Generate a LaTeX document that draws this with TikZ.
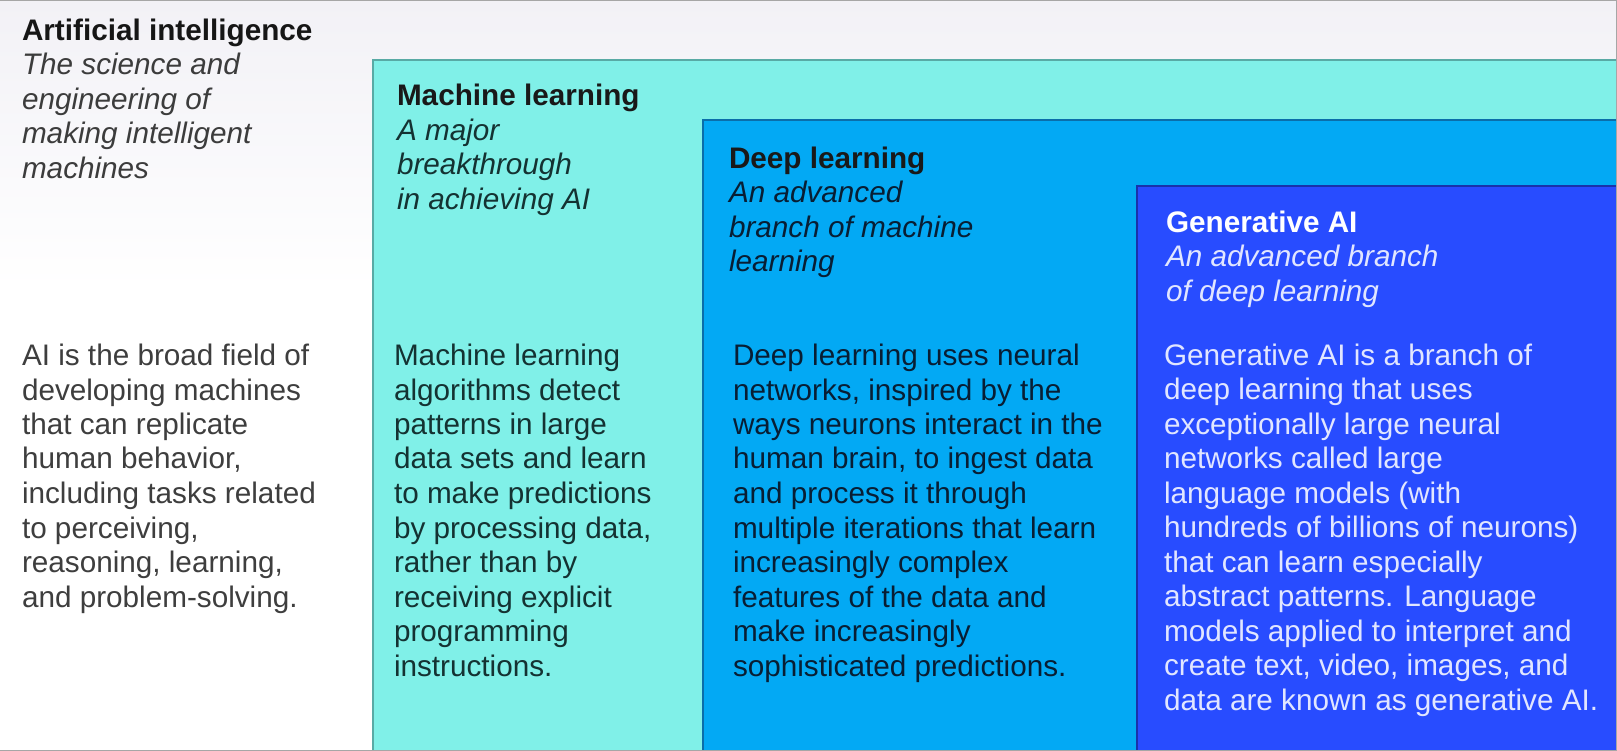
\documentclass[tikz,border=0pt]{standalone}
\usepackage{fontspec}
\setmainfont{Liberation Sans}
\definecolor{bgtop}{RGB}{242,241,246}
\definecolor{mlfill}{RGB}{128,240,232}
\definecolor{mledge}{RGB}{88,170,165}
\definecolor{dlfill}{RGB}{3,169,244}
\definecolor{dledge}{RGB}{10,110,170}
\definecolor{gafill}{RGB}{40,76,255}
\definecolor{gaedge}{RGB}{25,50,170}
\definecolor{aititle}{RGB}{22,22,22}
\definecolor{aisub}{RGB}{60,60,60}
\definecolor{aibody}{RGB}{62,62,62}
\definecolor{mltext}{RGB}{20,50,50}
\definecolor{dltext}{RGB}{8,30,52}
\definecolor{gatext}{RGB}{225,230,255}
\newcommand\blk[1]{\vtop{\baselineskip=34.5pt\lineskiplimit=-100pt\relax #1}}
\tikzset{
  txt/.style={anchor=base west, inner sep=0pt, outer sep=0pt,
    font=\fontsize{29.7pt}{34.5pt}\selectfont},
  box/.style={line width=1.2pt},
}
\begin{document}
\begin{tikzpicture}[x=1pt,y=-1pt]
\useasboundingbox (0,0) rectangle (1617,751);
\fill[white] (0,0) rectangle (1617,751);
\shade[top color=bgtop, bottom color=white] (0,0) rectangle (1617,290);
% nested boxes
\filldraw[box, fill=mlfill, draw=mledge] (373,60) rectangle (1618,752);
\filldraw[box, fill=dlfill, draw=dledge] (703,120) rectangle (1618,752);
\filldraw[box, fill=gafill, draw=gaedge] (1137,186) rectangle (1618,752);
% frame (top, right, bottom)
\draw[gray!70, line width=1.5pt] (0,0.5) -- (1616.5,0.5) -- (1616.5,750.5) -- (0,750.5);

% Artificial intelligence
\node[txt] (aihead) at (22,40.5) {\blk{%
  \hbox{\color{aititle}\bfseries Artificial intelligence}%
  \hbox{\color{aisub}\itshape The science and}%
  \hbox{\color{aisub}\itshape engineering of}%
  \hbox{\color{aisub}\itshape making intelligent}%
  \hbox{\color{aisub}\itshape machines}}};
\node[txt, text=aibody] (aibody) at (22,365.5) {\blk{%
  \hbox{AI is the broad field of}%
  \hbox{developing machines}%
  \hbox{that can replicate}%
  \hbox{human behavior,}%
  \hbox{including tasks related}%
  \hbox{to perceiving,}%
  \hbox{reasoning, learning,}%
  \hbox{and problem-solving.}}};

% Machine learning
\node[txt, text=mltext] (mlhead) at (397,106) {\blk{%
  \hbox{\color{black!90}\bfseries Machine learning}%
  \hbox{\itshape A major}%
  \hbox{\itshape breakthrough}%
  \hbox{\itshape in achieving AI}}};
\node[txt, text=mltext] (mlbody) at (394,365.5) {\blk{%
  \hbox{Machine learning}%
  \hbox{algorithms detect}%
  \hbox{patterns in large}%
  \hbox{data sets and learn}%
  \hbox{to make predictions}%
  \hbox{by processing data,}%
  \hbox{rather than by}%
  \hbox{receiving explicit}%
  \hbox{programming}%
  \hbox{instructions.}}};

% Deep learning
\node[txt, text=dltext] (dlhead) at (729,168.3) {\blk{%
  \hbox{\color{black!90}\bfseries Deep learning}%
  \hbox{\itshape An advanced}%
  \hbox{\itshape branch of machine}%
  \hbox{\itshape learning}}};
\node[txt, text=dltext] (dlbody) at (733,365.5) {\blk{%
  \hbox{Deep learning uses neural}%
  \hbox{networks, inspired by the}%
  \hbox{ways neurons interact in the}%
  \hbox{human brain, to ingest data}%
  \hbox{and process it through}%
  \hbox{multiple iterations that learn}%
  \hbox{increasingly complex}%
  \hbox{features of the data and}%
  \hbox{make increasingly}%
  \hbox{sophisticated predictions.}}};

% Generative AI
\node[txt, text=gatext] (gahead) at (1166,232.3) {\blk{%
  \hbox{\color{white}\bfseries Generative AI}%
  \hbox{\itshape An advanced branch}%
  \hbox{\itshape of deep learning}}};
\node[txt, text=gatext] (gabody) at (1164,365.3) {\blk{%
  \hbox{Generative AI is a branch of}%
  \hbox{deep learning that uses}%
  \hbox{exceptionally large neural}%
  \hbox{networks called large}%
  \hbox{language models (with}%
  \hbox{hundreds of billions of neurons)}%
  \hbox{that can learn especially}%
  \hbox{abstract patterns. Language}%
  \hbox{models applied to interpret and}%
  \hbox{create text, video, images, and}%
  \hbox{data are known as generative AI.}}};
\end{tikzpicture}
\end{document}
